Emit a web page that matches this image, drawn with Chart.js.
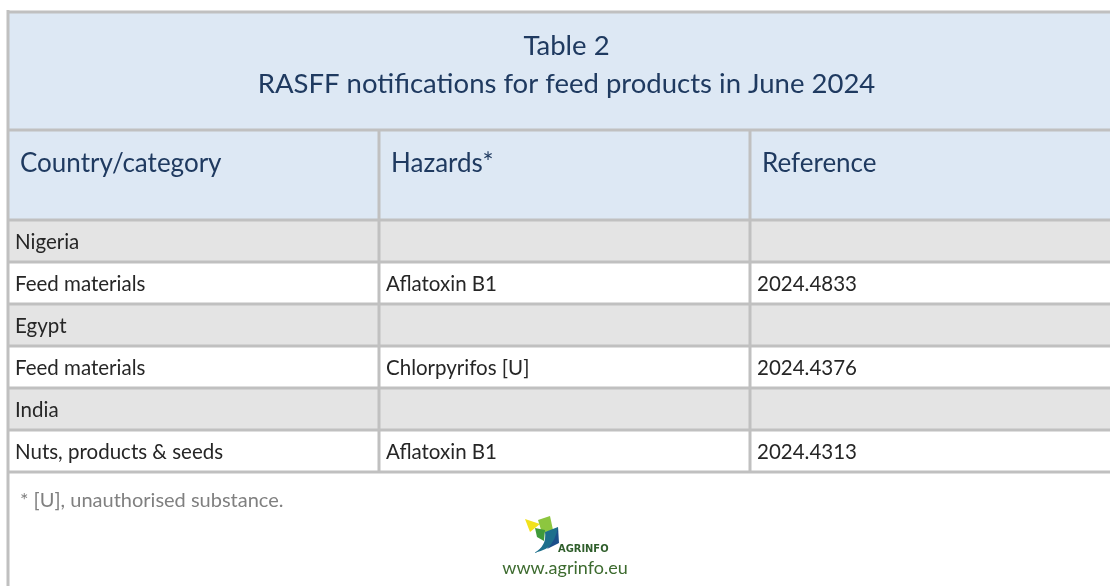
<!DOCTYPE html>
<html>
<head>
<meta charset="utf-8">
<script src="https://cdn.jsdelivr.net/npm/chart.js@4/dist/chart.umd.min.js"></script>
<style>
  html, body { margin: 0; padding: 0; background: #ffffff; overflow: hidden; }
  #wrap { width: 1110px; height: 586px; overflow: hidden; position: relative; }
  canvas { display: block; }
</style>
</head>
<body>
<div id="wrap"><canvas id="c" width="1130" height="586"></canvas></div>
<script>
// ---- data ----
const titleLines = ['Table 2', 'RASFF notifications for feed products in June 2024'];
const columnHeaders = ['Country/category', 'Hazards*', 'Reference'];
const rowLabels = ['Nigeria', 'Feed materials', 'Egypt', 'Feed materials', 'India', 'Nuts, products & seeds'];
const rowKinds = ['country', 'product', 'country', 'product', 'country', 'product'];
const hazards = ['', 'Aflatoxin B1', '', 'Chlorpyrifos [U]', '', 'Aflatoxin B1'];
const references = ['', '2024.4833', '', '2024.4376', '', '2024.4313'];
const footnote = '* [U], unauthorised substance.';
const logoText = 'AGRINFO';
const sourceUrl = 'www.agrinfo.eu';

// ---- styles ----
const FONT = 'Lato, "Source Sans Pro", "Noto Sans", sans-serif';
const BLUE_BG = '#dde8f4';
const GREY_BG = '#e4e4e4';
const LINE = '#c0c0c0';
const HEAD_TXT = '#1f3a60';
const BODY_TXT = '#262626';

const columns = [rowLabels, hazards, references];
const rowColors = rowKinds.map(k => k === 'country' ? GREY_BG : '#ffffff');

const tablePlugin = {
  id: 'tablePlugin',
  beforeDraw(chart) {
    const ctx = chart.ctx;
    const xs = chart.scales.x;
    ctx.save();
    ctx.fillStyle = '#ffffff';
    ctx.fillRect(0, 0, chart.width, chart.height);
    ctx.fillStyle = BLUE_BG;
    ctx.fillRect(xs.getPixelForValue(0), 12, xs.getPixelForValue(3) - xs.getPixelForValue(0), chart.chartArea.top - 12);
    ctx.restore();
  },
  afterDatasetsDraw(chart) {
    const ctx = chart.ctx;
    const xs = chart.scales.x, ys = chart.scales.y;
    const area = chart.chartArea;
    const x0 = xs.getPixelForValue(0);
    const rowH = ys.getPixelForValue(1) - ys.getPixelForValue(0);
    ctx.save();
    ctx.strokeStyle = LINE;
    ctx.lineWidth = 3;
    const hline = (y, xa, xb) => { ctx.beginPath(); ctx.moveTo(xa, y); ctx.lineTo(xb, y); ctx.stroke(); };
    const vline = (x, ya, yb) => { ctx.beginPath(); ctx.moveTo(x, ya); ctx.lineTo(x, yb); ctx.stroke(); };
    for (let i = 0; i <= rowLabels.length; i++) {
      const y = ys.getPixelForValue(0) - rowH / 2 + i * rowH;
      hline(Math.round(y), x0, area.right);
    }
    hline(12, x0, area.right);
    hline(130, x0, area.right);
    for (let c = 1; c < columnHeaders.length; c++) {
      vline(xs.getPixelForValue(c), 130, area.bottom);
    }
    vline(x0, 10, chart.height);

    // title
    const cx = (x0 + 1121) / 2 + 2;
    ctx.fillStyle = HEAD_TXT;
    ctx.textAlign = 'center';
    ctx.textBaseline = 'alphabetic';
    ctx.font = '27.5px ' + FONT;
    ctx.fillText(titleLines[0], cx, 55);
    ctx.fillText(titleLines[1], cx, 93);

    // headers
    ctx.textAlign = 'left';
    ctx.font = '26px ' + FONT;
    columnHeaders.forEach((h, c) => {
      ctx.fillText(h, xs.getPixelForValue(c) + 12, 172);
    });

    // cells
    ctx.fillStyle = BODY_TXT;
    ctx.font = '20.5px ' + FONT;
    columns.forEach((col, c) => {
      col.forEach((t, r) => {
        if (!t) return;
        ctx.fillText(t, xs.getPixelForValue(c) + 7, ys.getPixelForValue(r) + 8);
      });
    });

    // footnote
    ctx.fillStyle = '#808080';
    ctx.font = '20px ' + FONT;
    ctx.fillText(footnote, x0 + 12, 507);

    // logo
    const lx = 525, ly = 516;
    ctx.fillStyle = '#f2e21c';
    ctx.beginPath(); ctx.moveTo(lx + 0, ly + 3); ctx.lineTo(lx + 15, ly + 8); ctx.lineTo(lx + 5, ly + 16); ctx.closePath(); ctx.fill();
    ctx.fillStyle = '#8dc63f';
    ctx.beginPath(); ctx.moveTo(lx + 13, ly + 4); ctx.lineTo(lx + 25, ly + 0); ctx.lineTo(lx + 28, ly + 14); ctx.lineTo(lx + 17, ly + 17); ctx.closePath(); ctx.fill();
    ctx.fillStyle = '#3f9a3a';
    ctx.beginPath(); ctx.moveTo(lx + 10, ly + 12); ctx.lineTo(lx + 20, ly + 14); ctx.lineTo(lx + 19, ly + 25); ctx.lineTo(lx + 12, ly + 21); ctx.closePath(); ctx.fill();
    ctx.fillStyle = '#1d6f8c';
    ctx.beginPath(); ctx.moveTo(lx + 9, ly + 37); ctx.quadraticCurveTo(lx + 22, ly + 30, lx + 20, ly + 16); ctx.lineTo(lx + 33, ly + 11); ctx.quadraticCurveTo(lx + 35, ly + 31, lx + 9, ly + 37); ctx.closePath(); ctx.fill();
    ctx.fillStyle = '#1b4f8a';
    ctx.beginPath(); ctx.moveTo(lx + 22, ly + 33); ctx.quadraticCurveTo(lx + 31, ly + 24, lx + 33, ly + 11); ctx.lineTo(lx + 34, ly + 27); ctx.closePath(); ctx.fill();
    ctx.fillStyle = '#2f5e2b';
    ctx.font = 'bold 11px "DejaVu Sans Condensed", ' + FONT;
    ctx.fillText(logoText, lx + 33, ly + 36);
    ctx.fillStyle = '#3d6b2f';
    ctx.textAlign = 'center';
    ctx.font = '18px ' + FONT;
    ctx.fillText(sourceUrl, 565, 574);
    ctx.restore();
  }
};

new Chart(document.getElementById('c'), {
  type: 'bar',
  data: {
    labels: rowLabels,
    datasets: columnHeaders.map((h, c) => ({
      label: h,
      data: rowLabels.map(() => 1),
      backgroundColor: rowColors,
      borderWidth: 0,
      barPercentage: 1,
      categoryPercentage: 1
    }))
  },
  options: {
    indexAxis: 'y',
    responsive: false,
    animation: false,
    events: [],
    layout: { padding: { left: 8, right: 9, top: 220, bottom: 114 } },
    plugins: { legend: { display: false }, tooltip: { enabled: false }, title: { display: false } },
    scales: {
      x: { type: 'linear', stacked: true, min: 0, max: 3, display: false },
      y: { type: 'category', stacked: true, display: false }
    }
  },
  plugins: [tablePlugin]
});
</script>
</body>
</html>
